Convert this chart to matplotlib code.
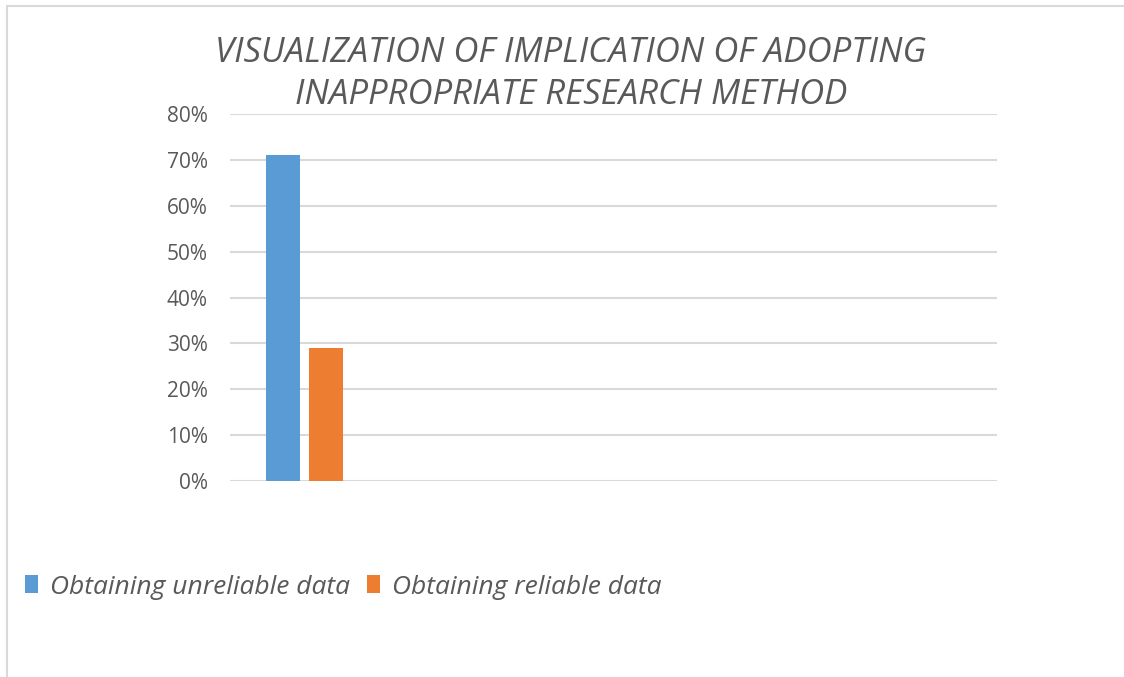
import matplotlib
matplotlib.use("Agg")
import matplotlib.pyplot as plt
from matplotlib.patches import Rectangle
from matplotlib.ticker import PercentFormatter

categories = [""]
series_names = ["Obtaining unreliable data", "Obtaining reliable data"]
unreliable = [0.71]
reliable = [0.29]
yticks = [0, 0.1, 0.2, 0.3, 0.4, 0.5, 0.6, 0.7, 0.8]
title = "VISUALIZATION OF IMPLICATION OF ADOPTING\nINAPPROPRIATE RESEARCH METHOD"

colors = ["#5B9BD5", "#ED7D31"]
text_color = "#595959"
grid_color = "#D9D9D9"

plt.rcParams['font.family'] = ['Open Sans', 'DejaVu Sans']

W, H = 1124, 677
fig = plt.figure(figsize=(W / 100, H / 100), dpi=100)

# chart border (top and left visible)
fig.add_artist(Rectangle((7 / W, -0.1), 1.2, (H - 6) / H + 0.1, transform=fig.transFigure,
                         fill=False, edgecolor=grid_color, linewidth=1.5))

ax = fig.add_axes([230 / W, 1 - 481 / H, (997 - 230) / W, (481 - 114) / H])
x = list(range(len(categories)))
w = 0.222
ax.bar([i - 0.153 for i in x], unreliable, width=w, color=colors[0], label=series_names[0], zorder=3)
ax.bar([i + 0.127 for i in x], reliable, width=w, color=colors[1], label=series_names[1], zorder=3)

ax.set_xlim(-0.5, 4.5)
ax.set_ylim(0, 0.8)
ax.set_yticks(yticks)
ax.yaxis.set_major_formatter(PercentFormatter(1.0, decimals=0))
ax.set_xticks([])
ax.grid(axis='y', color=grid_color, linewidth=1.5, zorder=0)
for s in ax.spines.values():
    s.set_visible(False)
ax.tick_params(axis='y', length=0, pad=16, labelsize=15, labelcolor=text_color)

fig.text(571 / W, 1 - 74 / H, title, ha='center', va='center', fontsize=25,
         style='italic', color=text_color, linespacing=1.33)

leg = fig.legend(loc='center left', bbox_to_anchor=(25 / W, 1 - 587 / H), ncol=2,
                 frameon=False, handlelength=0.5, handleheight=0.65,
                 handletextpad=0.45, columnspacing=0.65, borderpad=0, borderaxespad=0,
                 prop={'style': 'italic', 'size': 19})
for t in leg.get_texts():
    t.set_color(text_color)

fig.savefig("out.png", dpi=100)
